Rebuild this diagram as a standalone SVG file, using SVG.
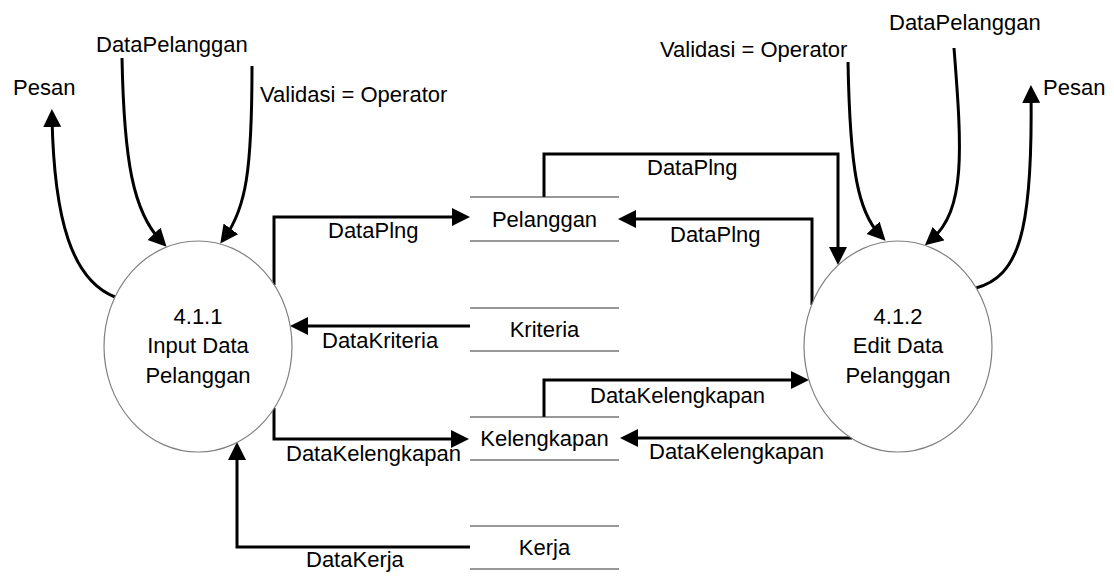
<svg xmlns="http://www.w3.org/2000/svg" width="1114" height="576" viewBox="0 0 1114 576">
<style>
text{font-family:"Liberation Sans",Arial,sans-serif;font-size:22px;fill:#000}
.mid{text-anchor:middle}
.proc{fill:#fff;stroke:#808080;stroke-width:1.2}
.store{stroke:#333;stroke-width:1.2}
.flow{fill:none;stroke:#000;stroke-width:3;marker-end:url(#arr)}
</style>
<defs>
<marker id="arr" markerUnits="userSpaceOnUse" markerWidth="20" markerHeight="20" refX="10" refY="9" orient="auto">
<path d="M0,0 L18,9 L0,18 z" fill="#000"/>
</marker>
</defs>
<rect width="1114" height="576" fill="#fff"/>
<g id="connectors">
<path class="flow" d="M122,58 C124,160 133,212 161,241"/>
<path class="flow" d="M252,66 C252,170 246,208 225,237"/>
<path class="flow" d="M115,297 C72,280 54,220 52,117"/>
<path class="flow" d="M848,62 C850,170 858,212 880,235"/>
<path class="flow" d="M954,48 C962,150 966,210 931,240"/>
<path class="flow" d="M976,288 C1018,276 1033,235 1031,93"/>
<path class="flow" d="M274,285 V217 H462"/>
<path class="flow" d="M544,197 V154 H838 V257"/>
<path class="flow" d="M812,305 V219 H626"/>
<path class="flow" d="M470,326 H298"/>
<path class="flow" d="M274,408 V439 H461"/>
<path class="flow" d="M544,417 V380 H801"/>
<path class="flow" d="M852,438 H628"/>
<path class="flow" d="M470,547 H237 V450"/>
<text x="13" y="95">Pesan</text>
<text x="96" y="52">DataPelanggan</text>
<text x="260" y="102">Validasi = Operator</text>
<text x="328" y="238">DataPlng</text>
<text x="322" y="348">DataKriteria</text>
<text x="286" y="461">DataKelengkapan</text>
<text x="306" y="567">DataKerja</text>
<text x="647" y="175">DataPlng</text>
<text x="670" y="242">DataPlng</text>
<text x="590" y="403">DataKelengkapan</text>
<text x="649" y="459">DataKelengkapan</text>
<text x="660" y="57">Validasi = Operator</text>
<text x="889" y="30">DataPelanggan</text>
<text x="1043" y="95">Pesan</text>
</g>
<g id="p411">
<ellipse class="proc" cx="198" cy="346.5" rx="94" ry="105.5"/>
<text class="mid" x="198" y="324">4.1.1</text>
<text class="mid" x="198" y="353">Input Data</text>
<text class="mid" x="198" y="383">Pelanggan</text>
</g>
<g id="p412">
<ellipse class="proc" cx="898" cy="346.5" rx="94" ry="105.5"/>
<text class="mid" x="898" y="324">4.1.2</text>
<text class="mid" x="898" y="353">Edit Data</text>
<text class="mid" x="898" y="383">Pelanggan</text>
</g>
<g id="storePelanggan">
<line class="store" x1="470" y1="197" x2="619" y2="197"/>
<line class="store" x1="470" y1="241" x2="619" y2="241"/>
<text class="mid" x="544.5" y="227">Pelanggan</text>
</g>
<g id="storeKriteria">
<line class="store" x1="470" y1="308" x2="619" y2="308"/>
<line class="store" x1="470" y1="351" x2="619" y2="351"/>
<text class="mid" x="544.5" y="337">Kriteria</text>
</g>
<g id="storeKelengkapan">
<line class="store" x1="470" y1="417" x2="619" y2="417"/>
<line class="store" x1="470" y1="460" x2="619" y2="460"/>
<text class="mid" x="544.5" y="446">Kelengkapan</text>
</g>
<g id="storeKerja">
<line class="store" x1="470" y1="526" x2="619" y2="526"/>
<line class="store" x1="470" y1="569" x2="619" y2="569"/>
<text class="mid" x="544.5" y="555">Kerja</text>
</g>
</svg>
